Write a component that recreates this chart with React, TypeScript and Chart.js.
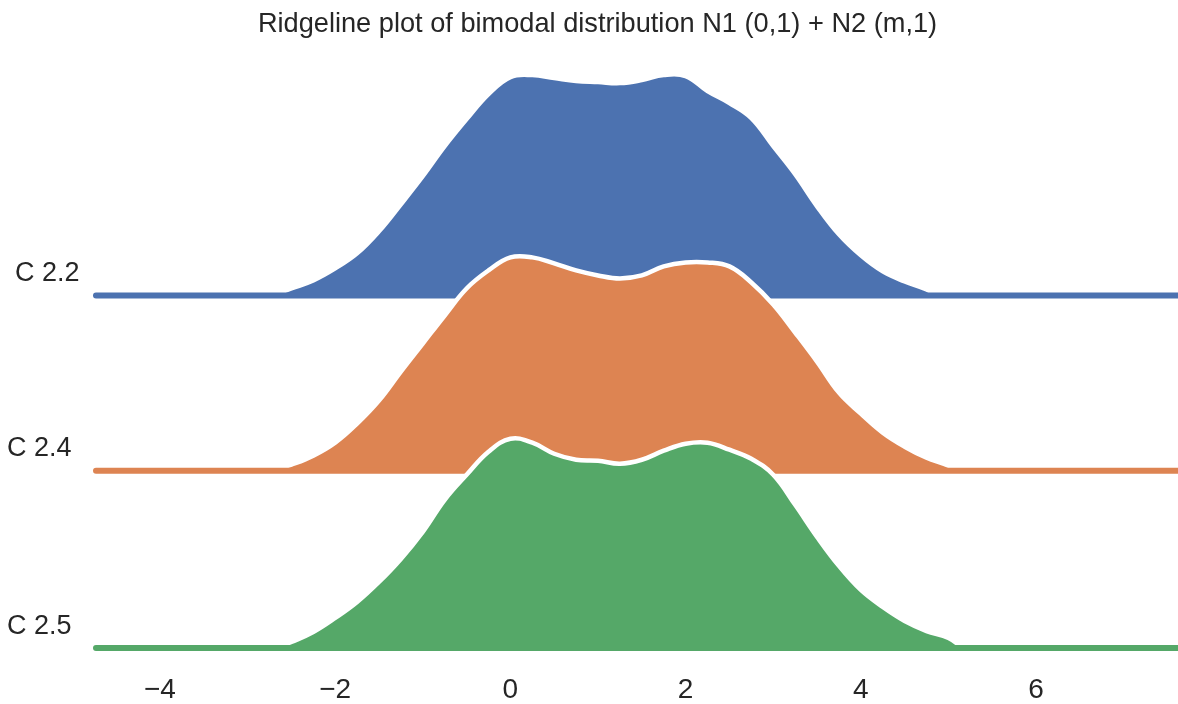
import { useEffect, useRef } from "react";
import { Chart, registerables } from "chart.js";

Chart.register(...registerables);

const TITLE = "Ridgeline plot of bimodal distribution N1 (0,1) + N2 (m,1)";
const categories = ["C 2.2", "C 2.4", "C 2.5"];
const colors = ["#4c72b0", "#dd8452", "#55a868"];
const ridgeOffsets = [0.352, 0.177, 0];
const xTicks = [-4, -2, 0, 2, 4, 6];
const xRange = [-4.73, 7.62];

// grid of sample positions for the density curves
const xGrid = [
  -2.5, -2.25, -2, -1.75, -1.5, -1.25, -1, -0.75, -0.5, -0.25, 0, 0.25, 0.5, 0.75, 1, 1.25,
  1.5, 1.75, 2, 2.25, 2.5, 2.75, 3, 3.25, 3.5, 3.75, 4, 4.25, 4.5, 4.75, 5,
];
const xStart = [-2.71, -2.71, -2.67];
const xEnd = [4.85, 5.08, 5.17];

const densC22 = [
  0.007, 0.015, 0.027, 0.042, 0.064, 0.091, 0.119, 0.149, 0.176, 0.201, 0.218, 0.22, 0.217,
  0.214, 0.213, 0.212, 0.215, 0.22, 0.219, 0.204, 0.192, 0.177, 0.149, 0.121, 0.089, 0.061,
  0.04, 0.024, 0.014, 0.006, 0,
];
const densC24 = [
  0.006, 0.015, 0.028, 0.047, 0.07, 0.099, 0.127, 0.155, 0.182, 0.2, 0.213, 0.213, 0.207,
  0.2, 0.195, 0.192, 0.195, 0.204, 0.208, 0.208, 0.204, 0.188, 0.166, 0.138, 0.109, 0.078,
  0.057, 0.038, 0.024, 0.013, 0.005,
];
const densC25 = [
  0.006, 0.016, 0.03, 0.046, 0.066, 0.089, 0.116, 0.148, 0.173, 0.196, 0.209, 0.205, 0.194,
  0.188, 0.187, 0.184, 0.188, 0.197, 0.204, 0.205, 0.198, 0.189, 0.173, 0.143, 0.111, 0.082,
  0.058, 0.041, 0.027, 0.017, 0.01,
];
const densities = [densC22, densC24, densC25];

const FONT = "'Liberation Sans', Arial, Helvetica, sans-serif";
const TEXT = "#262626";

export default function App() {
  const ref = useRef<HTMLCanvasElement | null>(null);

  useEffect(() => {
    document.body.style.margin = "0";
    const canvas = ref.current;
    if (!canvas) return;

    const datasets: any[] = [];
    categories.forEach((cat, i) => {
      const off = ridgeOffsets[i];
      const pts: { x: number; y: number }[] = [{ x: xStart[i], y: off }];
      xGrid.forEach((x, k) => {
        if (x > xStart[i] && x < xEnd[i]) pts.push({ x, y: off + densities[i][k] });
      });
      pts.push({ x: xEnd[i], y: off });
      datasets.push({
        label: cat,
        data: pts,
        backgroundColor: colors[i],
        borderColor: "#ffffff",
        borderWidth: 4.5,
        fill: { value: off },
        tension: 0.4,
        pointRadius: 0,
        order: 2 * (3 - i),
        clip: false,
      });
      datasets.push({
        label: cat + " base",
        data: [
          { x: xRange[0], y: off },
          { x: xRange[1], y: off },
        ],
        borderColor: colors[i],
        borderWidth: 6,
        borderCapStyle: "round",
        fill: false,
        pointRadius: 0,
        order: 2 * (3 - i) - 1,
        clip: 4,
      });
    });

    const labelPlugin = {
      id: "ridgeLabels",
      afterDatasetsDraw(chart: any) {
        const { ctx, scales } = chart;
        const ys = scales.y;
        ctx.save();
        ctx.font = `27px ${FONT}`;
        ctx.fillStyle = TEXT;
        ctx.textAlign = "left";
        ctx.textBaseline = "middle";
        const lefts = [15, 7, 7];
        categories.forEach((cat, i) => {
          const y = ys.getPixelForValue(ridgeOffsets[i]) - 22;
          ctx.fillText(cat, lefts[i], y);
        });
        ctx.restore();
      },
    };

    const chart = new Chart(canvas, {
      type: "line",
      data: { datasets },
      options: {
        animation: false,
        responsive: false,
        devicePixelRatio: 1,
        layout: { padding: { left: 17, right: 0, top: 0, bottom: 0 } },
        plugins: {
          legend: { display: false },
          tooltip: { enabled: false },
          title: {
            display: true,
            text: TITLE,
            color: TEXT,
            font: { family: FONT, size: 27.2, weight: "normal", lineHeight: 1.2 },
            padding: { top: 8, bottom: 12 },
          },
        },
        scales: {
          x: {
            type: "linear",
            min: xRange[0],
            max: xRange[1],
            grid: { display: false },
            border: { display: false },
            ticks: {
              color: TEXT,
              font: { family: FONT, size: 28, lineHeight: 1 },
              padding: 0,
              maxRotation: 0,
              callback: (v: any) => (Number(v) < 0 ? "\u2212" + Math.abs(Number(v)) : String(v)),
            },
            afterBuildTicks: (s: any) => {
              s.ticks = xTicks.map((v) => ({ value: v }));
            },
          },
          y: {
            type: "linear",
            min: -0.0199,
            max: 0.5944,
            grid: { display: false },
            border: { display: false },
            ticks: { display: false },
            afterFit: (s: any) => {
              s.width = 79;
            },
          },
        },
      } as any,
      plugins: [labelPlugin],
    });

    return () => chart.destroy();
  }, []);

  return (
    <div style={{ width: 1178, height: 704, background: "#ffffff" }}>
      <canvas ref={ref} width={1178} height={704} style={{ display: "block", width: 1178, height: 704 }} />
    </div>
  );
}
